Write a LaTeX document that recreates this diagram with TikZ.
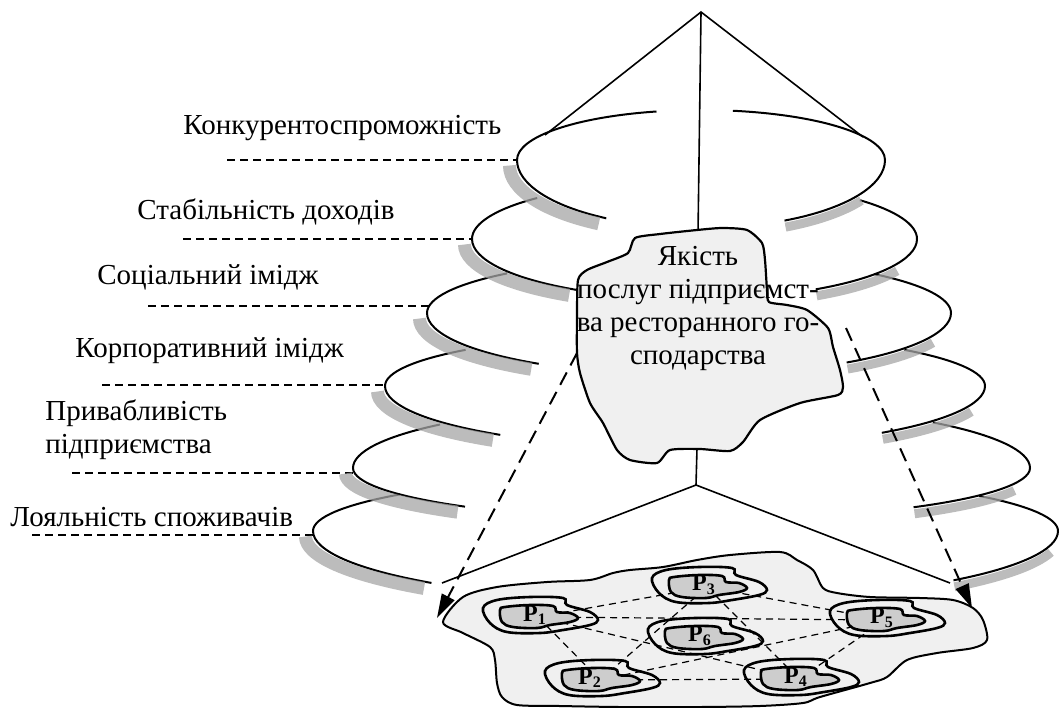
\documentclass[tikz,border=0pt]{standalone}
\usepackage{fontspec}
\setmainfont{Liberation Serif}
\usetikzlibrary{arrows.meta}
\definecolor{shadow_gray}{RGB}{165,165,165}
\definecolor{blob_light}{RGB}{240,240,240}
\definecolor{blob_dark}{RGB}{205,205,205}
\tikzset{
  outerblob/.pic={\draw[line width=1.3pt, fill=blob_light] plot[smooth cycle, tension=0.6] coordinates {(-55,-9) (-41,-17) (-8,-20) (25,-19) (29,-12) (52,-5) (60,3) (52,8) (25,13) (2,16) (-31,15) (-48,6)};},
  innerblob/.pic={\draw[line width=1.3pt, fill=blob_dark] plot[smooth cycle, tension=0.6] coordinates {(-38,-7) (-33,-10) (-8,-12) (15,-11) (19,-5) (32,-4) (40,1) (32,5) (12,8) (-1,11) (-25,10) (-36,5)};}
}

\begin{document}
\begin{tikzpicture}[x=0.5pt,y=-0.5pt,>={Triangle[length=12pt,width=7pt]}]
    \tikzstyle{tierline}=[line width=1pt]
    \tikzstyle{tiershadow}=[draw=shadow_gray, line width=6.5pt, draw opacity=0.75]
    \tikzstyle{rightshadow}=[draw=shadow_gray, line width=4.5pt, draw opacity=0.75]
    \tikzstyle{guideline}=[line width=0.6pt, dash pattern=on 4pt off 2.5pt]
    \tikzstyle{linkline}=[line width=0.6pt, dash pattern=on 3.5pt off 2.5pt]
    \tikzstyle{rayline}=[->, line width=1pt, dash pattern=on 7pt off 4pt]
    \tikzstyle{stemline}=[line width=0.8pt]
    \tikzstyle{tierlabel}=[font=\fontsize{14.5}{16.5}\selectfont, inner sep=0pt, anchor=base west]
    \tikzstyle{plabel}=[font=\fontsize{12}{13}\selectfont\bfseries, inner sep=0pt]

    \useasboundingbox (0,0) rectangle (1059,707);

    % labels of the tiers
    \node[tierlabel] (comp)  at (183,134) {Конкурентоспроможність};
    \node[tierlabel] (stab)  at (137,219) {Стабільність доходів};
    \node[tierlabel] (soc)   at (97,284)  {Соціальний імідж};
    \node[tierlabel] (corp)  at (75,357)  {Корпоративний імідж};
    \node[tierlabel] (attr)  at (45,420)  {Привабливість};
    \node[tierlabel] (attrb) at (45,453)  {підприємства};
    \node[tierlabel] (loyal) at (10,526)  {Лояльність споживачів};

    \coordinate (g1) at (227,160); \coordinate (e1) at (517,160);
    \coordinate (g2) at (183,239); \coordinate (e2) at (472,239);
    \coordinate (g3) at (148,306); \coordinate (e3) at (429,306);
    \coordinate (g4) at (102,385); \coordinate (e4) at (385,385);
    \coordinate (g5) at (72,473);  \coordinate (e5) at (355,473);
    \coordinate (g6) at (32,535);  \coordinate (e6) at (314,535);
    \draw[guideline] (g1) -- (e1) (g2) -- (e2) (g3) -- (e3)
                     (g4) -- (e4) (g5) -- (e5) (g6) -- (e6);

    % the cone
    \coordinate (apex) at (701,12);
    \coordinate (tl)   at (545,135);
    \coordinate (tr)   at (863,137);
    \coordinate (qtop) at (698,234);
    \draw[stemline] (tl) -- (apex) -- (tr) (apex) -- (qtop);

    % tiers, left and right halves
    \draw[tierline] ([shift={(-104:184 and 50)}]701,160) arc[start angle=-104, end angle=-180, x radius=184, y radius=50] arc[start angle=180, end angle=121, x radius=184, y radius=68];
    \draw[tierline] ([shift={(-80:184 and 50)}]701,160) arc[start angle=-80, end angle=0, x radius=184, y radius=50] arc[start angle=0, end angle=63, x radius=184, y radius=68];
    \draw[tierline] ([shift={(-135:222.5 and 58)}]694.5,239) arc[start angle=-135, end angle=-180, x radius=222.5, y radius=58] arc[start angle=180, end angle=122, x radius=222.5, y radius=60];
    \draw[tierline] ([shift={(-42:222.5 and 58)}]694.5,239) arc[start angle=-42, end angle=0, x radius=222.5, y radius=58] arc[start angle=0, end angle=57, x radius=222.5, y radius=60];
    \draw[tierline] ([shift={(-134:262 and 55)}]689,313) arc[start angle=-134, end angle=-180, x radius=262, y radius=55] arc[start angle=180, end angle=125, x radius=262, y radius=62];
    \draw[tierline] ([shift={(-45:262 and 55)}]689,313) arc[start angle=-45, end angle=0, x radius=262, y radius=55] arc[start angle=0, end angle=53, x radius=262, y radius=62];
    \draw[tierline] ([shift={(-137:300 and 53)}]685,386) arc[start angle=-137, end angle=-180, x radius=300, y radius=53] arc[start angle=180, end angle=128, x radius=300, y radius=62];
    \draw[tierline] ([shift={(-43:300 and 53)}]685,386) arc[start angle=-43, end angle=0, x radius=300, y radius=53] arc[start angle=0, end angle=49, x radius=300, y radius=62];
    \draw[tierline] ([shift={(-138:338.5 and 65)}]691.5,468) arc[start angle=-138, end angle=-180, x radius=338.5, y radius=65] arc[start angle=180, end angle=132, x radius=338.5, y radius=52];
    \draw[tierline] ([shift={(-44.5:338.5 and 65)}]691.5,468) arc[start angle=-44.5, end angle=0, x radius=338.5, y radius=65] arc[start angle=0, end angle=49, x radius=338.5, y radius=52];
    \draw[tierline] ([shift={(-140:372.5 and 57)}]685.5,531) arc[start angle=-140, end angle=-180, x radius=372.5, y radius=57] arc[start angle=180, end angle=133, x radius=372.5, y radius=71];
    \draw[tierline] ([shift={(-38:372.5 and 57)}]685.5,531) arc[start angle=-38, end angle=0, x radius=372.5, y radius=57] arc[start angle=0, end angle=44, x radius=372.5, y radius=71];

    % shadows
    \draw[tiershadow] ([shift={(180:184 and 68)}]693.5,165.5) arc[start angle=180, end angle=121, x radius=184, y radius=68];
    \draw[rightshadow] ([shift={(30:184 and 68)}]702,166.5) arc[start angle=30, end angle=63, x radius=184, y radius=68];
    \draw[tiershadow] ([shift={(180:222.5 and 60)}]687,244.5) arc[start angle=180, end angle=122, x radius=222.5, y radius=60];
    \draw[rightshadow] ([shift={(25:222.5 and 60)}]695.5,245.5) arc[start angle=25, end angle=57, x radius=222.5, y radius=60];
    \draw[tiershadow] ([shift={(180:262 and 62)}]681.5,318.5) arc[start angle=180, end angle=125, x radius=262, y radius=62];
    \draw[rightshadow] ([shift={(22:262 and 62)}]690,319.5) arc[start angle=22, end angle=53, x radius=262, y radius=62];
    \draw[tiershadow] ([shift={(180:300 and 62)}]677.5,391.5) arc[start angle=180, end angle=128, x radius=300, y radius=62];
    \draw[rightshadow] ([shift={(18:300 and 62)}]686,392.5) arc[start angle=18, end angle=49, x radius=300, y radius=62];
    \draw[tiershadow] ([shift={(180:338.5 and 52)}]684,473.5) arc[start angle=180, end angle=132, x radius=338.5, y radius=52];
    \draw[rightshadow] ([shift={(18:338.5 and 52)}]692.5,474.5) arc[start angle=18, end angle=49, x radius=338.5, y radius=52];
    \draw[tiershadow] ([shift={(180:372.5 and 71)}]678,536.5) arc[start angle=180, end angle=133, x radius=372.5, y radius=71];
    \draw[rightshadow] ([shift={(12:372.5 and 71)}]686.5,537.5) arc[start angle=12, end angle=44, x radius=372.5, y radius=71];

    % lower cone
    \coordinate (qbot) at (697,448);
    \coordinate (fork) at (696,485);
    \coordinate (fl)   at (442,583);
    \coordinate (fr)   at (950,583);
    \draw[stemline] (qbot) -- (fork) -- (fl) (fork) -- (fr);

    % quality of services
    \draw[line width=1.1pt, fill=blob_light] plot[smooth cycle, tension=0.4] coordinates {(635,238) (660,234) (697,230) (722,228) (747,230) (762,243) (765,260) (767,290) (769,302) (787,305) (807,310) (828,328) (833,347) (840,370) (843,387) (838,395) (800,403) (760,420) (743,442) (730,451) (700,449) (670,450) (657,463) (630,460) (617,450) (603,423) (590,403) (580,373) (577,353) (577,317) (578,280) (587,270) (607,262) (628,253)};
    \node[font=\fontsize{14.5}{16.5}\selectfont, align=center, inner sep=0pt] (quality) at (698,308) {Якість\\послуг підприємст-\\ва ресторанного го-\\сподарства};

    % field of processes
    \draw[line width=1pt, fill=blob_light] plot[smooth cycle, tension=0.5] coordinates {(443,622) (463,597) (497,587) (547,582) (590,580) (613,573) (630,570) (663,567) (697,560) (730,555) (780,552) (797,560) (813,570) (823,588) (837,593) (870,597) (920,598) (953,600) (973,608) (983,620) (987,640) (973,648) (937,653) (907,660) (887,677) (870,683) (820,697) (803,703) (760,706) (700,707) (620,707) (560,706) (517,705) (502,697) (497,683) (495,660) (490,647) (463,633)};

    \coordinate (p1) at (538,617);
    \coordinate (p2) at (600,680);
    \coordinate (p3) at (707,587);
    \coordinate (p4) at (799,679);
    \coordinate (p5) at (885,620);
    \coordinate (p6) at (703,638);
    \pic at (p1) {outerblob}; \pic at (p2) {outerblob}; \pic at (p3) {outerblob};
    \pic at (p4) {outerblob}; \pic at (p5) {outerblob}; \pic at (p6) {outerblob};

    \draw[linkline] (p1) -- (p3) (p1) -- (p5) (p1) -- (p4) (p1) -- (p2)
                    (p3) -- (p5) (p3) -- (p4) (p2) -- (p3) (p2) -- (p5)
                    (p2) -- (p4) (p4) -- (p5);

    \pic at (p1) {innerblob}; \pic at (p2) {innerblob}; \pic at (p3) {innerblob};
    \pic at (p4) {innerblob}; \pic at (p5) {innerblob}; \pic at (p6) {innerblob};

    \node[plabel] (P1) at ([shift={(-3,-2)}]p1) {P\textsubscript{1}};
    \node[plabel] (P2) at ([shift={(-10,-2)}]p2) {P\textsubscript{2}};
    \node[plabel] (P3) at ([shift={(-3,-2)}]p3) {P\textsubscript{3}};
    \node[plabel] (P4) at ([shift={(-3,-2)}]p4) {P\textsubscript{4}};
    \node[plabel] (P5) at ([shift={(-3,-2)}]p5) {P\textsubscript{5}};
    \node[plabel] (P6) at ([shift={(-3,-2)}]p6) {P\textsubscript{6}};

    % projections
    \coordinate (qleft)  at (577,353);
    \coordinate (tipl)   at (437,618);
    \coordinate (qright) at (846,328);
    \coordinate (tipr)   at (972,608);
    \draw[rayline] (qleft) -- (tipl);
    \draw[rayline] (qright) -- (tipr);
\end{tikzpicture}
\end{document}
